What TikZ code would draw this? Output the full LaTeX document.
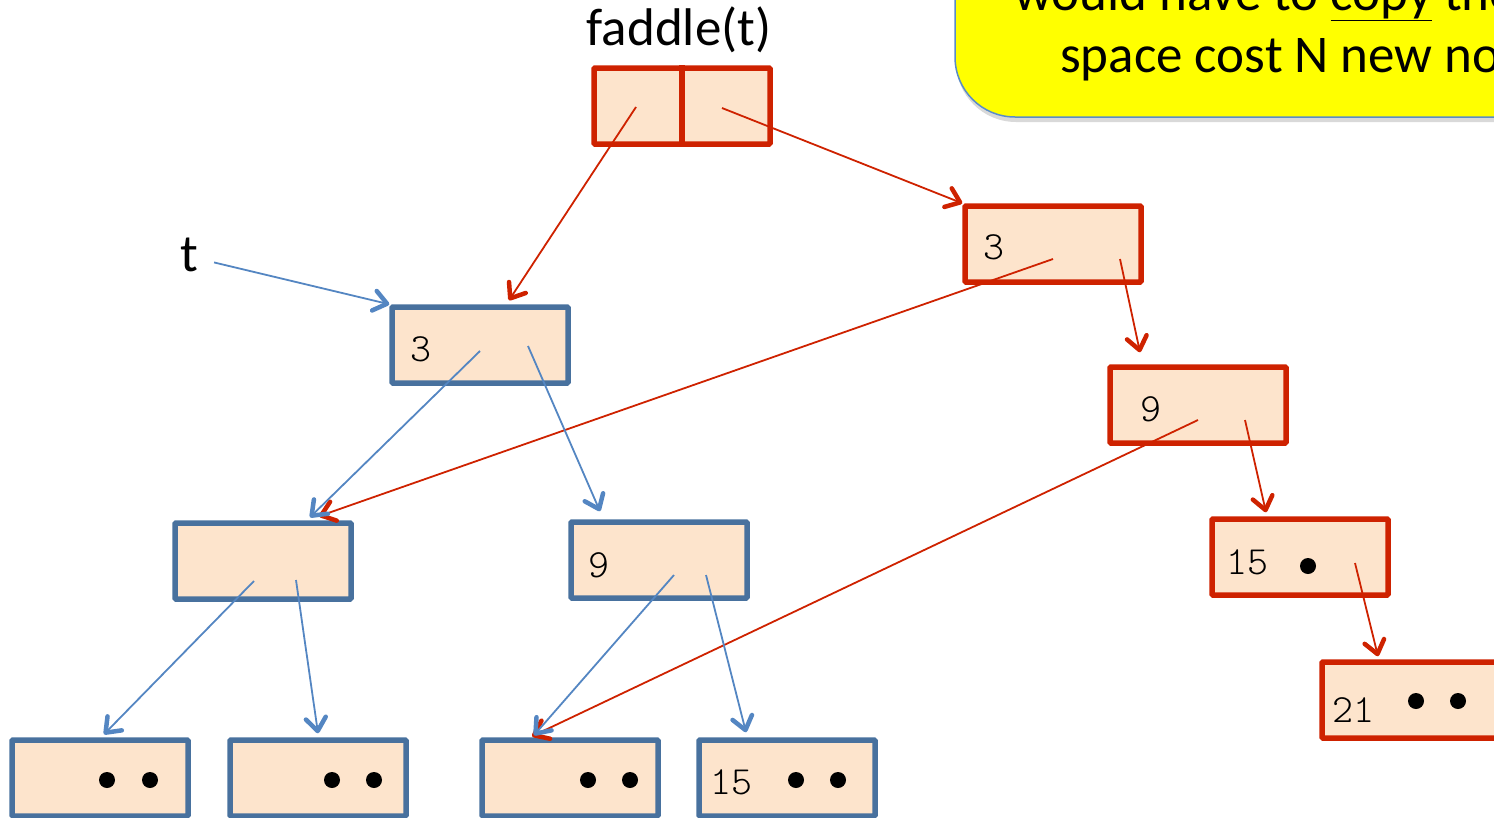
\documentclass[tikz,border=0pt]{standalone}
\usepackage{fontspec}
\setmainfont{Carlito}
\newfontfamily\keyfont{lmmonolt10-regular.otf}
\usetikzlibrary{arrows.meta,calc,shadows}

\definecolor{cellfill}{RGB}{253,228,204}
\definecolor{oldedge}{RGB}{72,113,158}
\definecolor{oldptr}{RGB}{84,134,194}
\definecolor{newedge}{RGB}{206,34,0}
\definecolor{notefill}{RGB}{255,255,0}
\definecolor{noteedge}{RGB}{90,140,200}

\tikzset{
  cell/.style={draw, line width=5.5pt, rounded corners=1pt, fill=cellfill,
    minimum width=176pt, minimum height=76pt, inner sep=0pt},
  oldcell/.style={cell, draw=oldedge},
  newcell/.style={cell, draw=newedge},
  barb/.style={-{Straight Barb[length=13pt,width=20pt,line width=4.5pt,round]}},
  oldptr/.style={barb, draw=oldptr, line width=1.8pt},
  newptr/.style={barb, draw=newedge, line width=1.8pt},
  key/.style={font=\keyfont\fontsize{40}{40}\selectfont, anchor=base west, inner sep=0pt},
  dot/.style={fill=black, circle, minimum size=16pt, inner sep=0pt},
  big/.style={font=\fontsize{53}{56}\selectfont, inner sep=0pt},
}

\begin{document}
\begin{tikzpicture}[x=1pt, y=-1pt]
\useasboundingbox (0,0) rectangle (1494,817);
\clip (0,0) rectangle (1494,817);

% callout in the corner
\node[draw=noteedge, line width=1.5pt, fill=notefill, rounded corners=60pt,
      minimum width=620pt, minimum height=230pt,
      drop shadow={shadow xshift=1pt, shadow yshift=-5pt, opacity=0.3}]
  (note) at (1265,2) {};
\node[big, anchor=base west] (noteA) at (1014,10)
  {would have to \underline{copy} the entire};
\node[big, anchor=base west] (noteB) at (1060,72) {space cost N new nodes};

% title and argument pair
\node[big, anchor=base] (title) at (679,45) {faddle(t)};
\node[newcell] (fad) at (682,106) {};
\draw[newedge, line width=5.5pt] (fad.north) -- (fad.south);

% new (copied) nodes
\node[newcell] (rA) at (1053,244) {};
\node[newcell] (rB) at (1198,405) {};
\node[newcell] (rC) at (1300,557) {};
\node[newcell] (rD) at (1410,700) {};

% original nodes
\node[oldcell] (bT) at (480,345) {};
\node[oldcell] (bL) at (263,561) {};
\node[oldcell] (b9) at (659,560) {};
\node[oldcell] (b1) at (100,778) {};
\node[oldcell] (b2) at (318,778) {};
\node[oldcell] (b3) at (570,778) {};
\node[oldcell] (b4) at (787,778) {};

% keys
\node[key] (kA) at (983,259) {3};
\node[key] (kB) at (1140,421) {9};
\node[key] (kC) at (1226,574) {15};
\node[key] (kD) at (1332,722) {21};
\node[key] (kT) at (410,361) {3};
\node[key] (k9) at (588,577) {9};
\node[key] (k4) at (710,794) {15};

% leaf markers
\node[dot] (dC) at (1308,566) {};
\node[dot] (dD1) at (1416,701) {};
\node[dot] (dD2) at (1458,701) {};
\node[dot] (d11) at (107,780) {};
\node[dot] (d12) at (150,780) {};
\node[dot] (d21) at (332,780) {};
\node[dot] (d22) at (374,780) {};
\node[dot] (d31) at (588,780) {};
\node[dot] (d32) at (630,780) {};
\node[dot] (d41) at (796,780) {};
\node[dot] (d42) at (838,780) {};

% variable name
\node[big, anchor=base] (t) at (189,271) {t};

% pointer origins inside the cells
\coordinate (fadL) at ($(fad.center)+(-46,1)$);
\coordinate (fadR) at ($(fad.center)+(40,2)$);
\coordinate (rAl) at ($(rA.center)+(0,15)$);
\coordinate (rAr) at ($(rA.center)+(67,15)$);
\coordinate (rBl) at ($(rB.center)+(0,15)$);
\coordinate (rBr) at ($(rB.center)+(47,15)$);
\coordinate (rCr) at ($(rC.center)+(55,6)$);
\coordinate (bTl) at ($(bT.center)+(0,6)$);
\coordinate (bTr) at ($(bT.center)+(48,1)$);
\coordinate (bLl) at ($(bL.center)+(-9,20)$);
\coordinate (bLr) at ($(bL.center)+(33,19)$);
\coordinate (b9l) at ($(b9.center)+(15,15)$);
\coordinate (b9r) at ($(b9.center)+(47,15)$);

% new pointers
\draw[newptr] (fadL) -- ($(bT.north)+(29,-4)$);
\draw[newptr] (fadR) -- (rA.north west);
\draw[newptr] (rAl) -- ($(bL.north)+(56,-4)$);
\draw[newptr] (rAr) -- ($(rB.north)+(-58,-12)$);
\draw[newptr] (rBl) -- ($(b3.north)+(-38,-1)$);
\draw[newptr] (rBr) -- ($(rC.north)+(-34,-4)$);
\draw[newptr] (rCr) -- ($(rD.north)+(-32,-3)$);

% original pointers
\draw[oldptr] ($(t.east)+(16,8)$) -- (bT.north west);
\draw[oldptr] (bTl) -- ($(bL.north)+(47,-3)$);
\draw[oldptr] (bTr) -- ($(b9.north)+(-59,-8)$);
\draw[oldptr] (bLl) -- ($(b1.north)+(4,-3)$);
\draw[oldptr] (bLr) -- ($(b2.north)+(0,-4)$);
\draw[oldptr] (b9l) -- ($(b3.north)+(-36,-2)$);
\draw[oldptr] (b9r) -- ($(b4.north)+(-41,-5)$);
\end{tikzpicture}
\end{document}
